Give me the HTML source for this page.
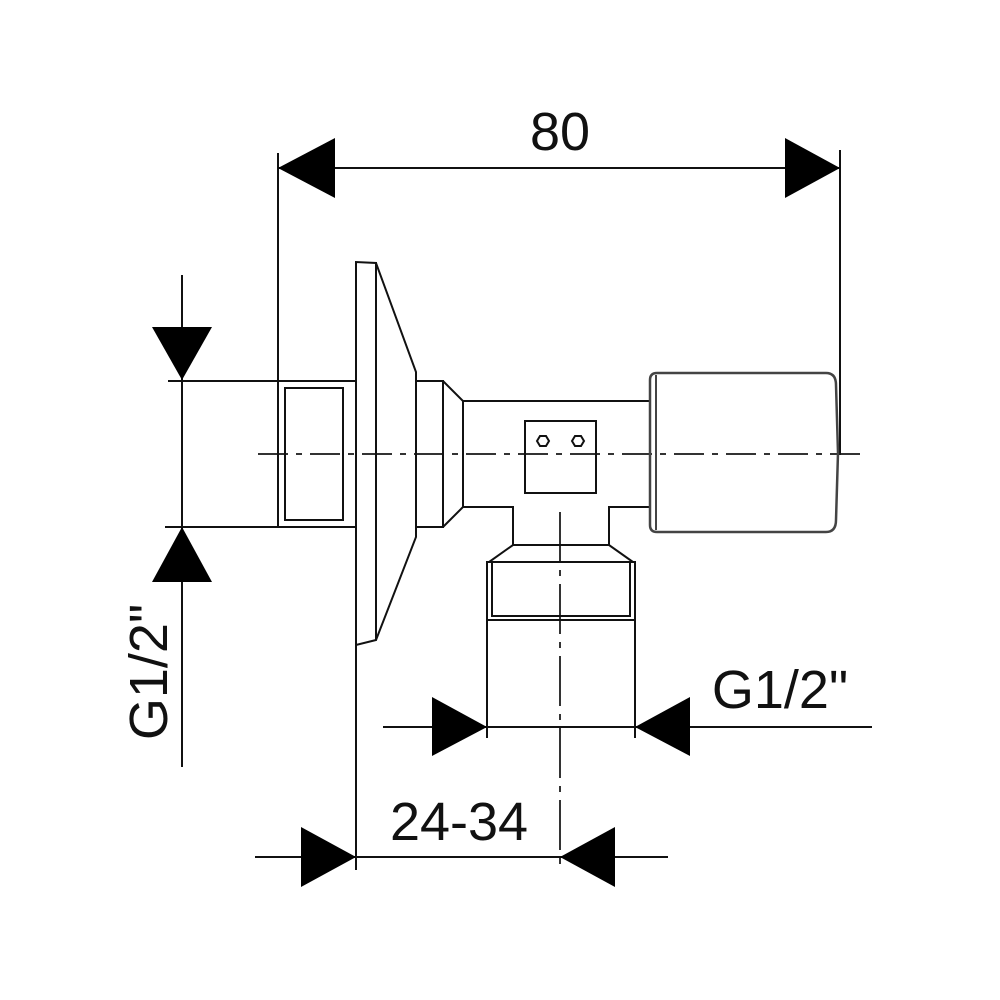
<!DOCTYPE html>
<html><head><meta charset="utf-8"><style>html,body{margin:0;padding:0;background:#fff}svg{display:block}</style></head>
<body>
<svg width="1000" height="1000" viewBox="0 0 1000 1000" xmlns="http://www.w3.org/2000/svg">
<rect width="1000" height="1000" fill="#fff"/>
<g stroke="#111" stroke-width="2" fill="none">
<!-- centerline -->
<line x1="258" y1="454" x2="865" y2="454" stroke-dasharray="30,8,6,8" stroke="#333"/>
<line x1="560" y1="512" x2="560" y2="870" stroke-dasharray="50,8,6,8" stroke="#333"/>
<!-- extension lines -->
<line x1="278" y1="153" x2="278" y2="381"/>
<line x1="840" y1="150" x2="840" y2="455"/>
<line x1="182" y1="275" x2="182" y2="767"/>
<line x1="168" y1="381" x2="356" y2="381"/>
<line x1="165" y1="527" x2="356" y2="527"/>
<line x1="356" y1="640" x2="356" y2="870"/>
<!-- dim lines -->
<line x1="278" y1="168" x2="840" y2="168"/>
<line x1="383" y1="727" x2="872" y2="727"/>
<line x1="255" y1="857" x2="668" y2="857"/>
<line x1="487" y1="620" x2="487" y2="738"/>
<line x1="635" y1="620" x2="635" y2="738"/>
<!-- left thread -->
<rect x="278" y="381" width="78" height="146"/>
<rect x="285" y="388" width="58" height="132"/>
<!-- flange -->
<path d="M376 640 L356 645 L356 262 L376 263 Z"/>
<path d="M376 263 L416 372 L416 537 L376 640"/>
<rect x="416" y="381" width="27" height="146"/>
<path d="M443 381 L463 401 L463 507 L443 527"/>
<!-- body -->
<path d="M463 401 L650 401 M463 507 L513 507 L513 545 M609 545 L609 507 L650 507"/>
<rect x="525" y="421" width="71" height="72"/>
<polygon points="537,441 540,436 546,436 549,441 546,446 540,446"/>
<polygon points="572,441 575,436 581,436 584,441 581,446 575,446"/>
<!-- bottom fitting -->
<path d="M513 545 L609 545 L633 562 L489 562 Z"/>
<rect x="487" y="562" width="148" height="58"/>
<rect x="492" y="562" width="138" height="54"/>
<!-- handle -->
<path d="M650 380 Q650 373 657 373 L826 373 Q836 373 836 385 L838 453 L836 520 Q836 532 826 532 L657 532 Q650 532 650 525 Z" stroke="#444" stroke-width="2.5"/>
<line x1="656" y1="375" x2="656" y2="530" stroke="#444" stroke-width="2"/>
</g>
<g fill="#000">
<polygon points="278,168 335,138 335,198"/>
<polygon points="840,168 785,138 785,198"/>
<polygon points="182,380 152,327 212,327"/>
<polygon points="182,527 152,582 212,582"/>
<polygon points="487,727 432,697 432,756"/>
<polygon points="635,727 690,697 690,756"/>
<polygon points="356,857 301,827 301,887"/>
<polygon points="560,857 615,827 615,887"/>
</g>
<g font-family="Liberation Sans, Arial, sans-serif" font-size="54" fill="#111">
<text x="560" y="150" text-anchor="middle">80</text>
<text x="780" y="708" text-anchor="middle">G1/2"</text>
<text x="459" y="840" text-anchor="middle">24-34</text>
<text transform="translate(167,672) rotate(-90)" text-anchor="middle">G1/2"</text>
</g>
</svg>
</body></html>
